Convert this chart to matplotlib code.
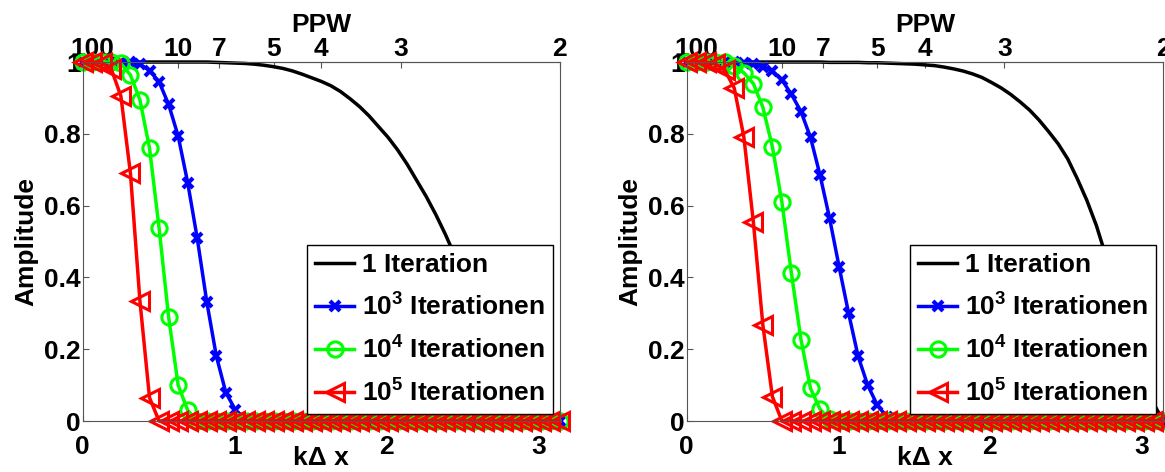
import numpy as np
import matplotlib
matplotlib.use('Agg')
import matplotlib.pyplot as plt

plt.rcParams['font.family'] = 'Liberation Sans'
plt.rcParams['font.weight'] = 'bold'
plt.rcParams['axes.labelweight'] = 'bold'
plt.rcParams['font.size'] = 19
plt.rcParams['mathtext.fontset'] = 'custom'
plt.rcParams['mathtext.rm'] = 'Liberation Sans:bold'
plt.rcParams['mathtext.it'] = 'Liberation Sans:bold'
plt.rcParams['mathtext.bf'] = 'Liberation Sans:bold'

# k*dx grid, 0..pi
kdx = np.linspace(0, np.pi, 51)

ppw = [100, 10, 7, 5, 4, 3, 2]
ppw_labels = ['100', '10', '7', '5', '4', '3', '2']

x_ticks = [0, 1, 2, 3]
x_labels = ['0', '1', '2', '3']
y_ticks = [0, 0.2, 0.4, 0.6, 0.8, 1.0]
y_labels = ['0', '0.2', '0.4', '0.6', '0.8', '1']

series_labels = ['1 Iteration', r'$10^3$ Iterationen', r'$10^4$ Iterationen', r'$10^5$ Iterationen']

# ---- linkes Bild ----
black_l = [1, 1, 1, 1, 1, 1, 1, 1, 1, 1,
           1, 1, 1, 1, 0.999, 0.998, 0.997, 0.996, 0.994, 0.991,
           0.987, 0.982, 0.975, 0.966, 0.956, 0.946, 0.934, 0.918, 0.898, 0.876,
           0.85, 0.82, 0.79, 0.755, 0.715, 0.67, 0.625, 0.575, 0.52, 0.46,
           0.40, 0.34, 0.28, 0.22, 0.17, 0.12, 0.08, 0.05, 0.03, 0.01,
           0.0]
blue_l = [1, 1, 1, 1, 1, 0.999, 0.994, 0.976, 0.945, 0.882,
          0.794, 0.664, 0.509, 0.332, 0.181, 0.079, 0.031, 0.006, 0, 0,
          0, 0, 0, 0, 0, 0, 0, 0, 0, 0,
          0, 0, 0, 0, 0, 0, 0, 0, 0, 0,
          0, 0, 0, 0, 0, 0, 0, 0, 0, 0,
          0]
green_l = [1, 1, 1, 1, 0.996, 0.964, 0.894, 0.76, 0.538, 0.29,
           0.10, 0.03, 0, 0, 0, 0, 0, 0, 0, 0,
           0, 0, 0, 0, 0, 0, 0, 0, 0, 0,
           0, 0, 0, 0, 0, 0, 0, 0, 0, 0,
           0, 0, 0, 0, 0, 0, 0, 0, 0, 0,
           0]
red_l = [1, 1, 0.998, 0.98, 0.905, 0.69, 0.333, 0.065, 0, 0,
         0, 0, 0, 0, 0, 0, 0, 0, 0, 0,
         0, 0, 0, 0, 0, 0, 0, 0, 0, 0,
         0, 0, 0, 0, 0, 0, 0, 0, 0, 0,
         0, 0, 0, 0, 0, 0, 0, 0, 0, 0,
         0]

# ---- rechtes Bild ----
black_r = [1, 1, 1, 1, 1, 1, 1, 1, 1, 1,
           1, 1, 1, 1, 1, 0.999, 0.999, 0.999, 0.999, 0.998,
           0.998, 0.997, 0.996, 0.995, 0.994, 0.992, 0.99, 0.986, 0.981, 0.975,
           0.967, 0.957, 0.943, 0.928, 0.91, 0.889, 0.866, 0.838, 0.806, 0.772,
           0.73, 0.675, 0.615, 0.545, 0.46, 0.37, 0.28, 0.19, 0.11, 0.05,
           0.0]
blue_r = [1, 1, 1, 1, 1, 1, 0.998, 0.994, 0.987, 0.975,
          0.95, 0.91, 0.862, 0.79, 0.685, 0.565, 0.43, 0.30, 0.18, 0.10,
          0.045, 0.012, 0, 0, 0, 0, 0, 0, 0, 0,
          0, 0, 0, 0, 0, 0, 0, 0, 0, 0,
          0, 0, 0, 0, 0, 0, 0, 0, 0, 0,
          0]
green_r = [1, 1, 1, 1, 0.999, 0.99, 0.97, 0.94, 0.874, 0.764,
           0.609, 0.411, 0.227, 0.091, 0.033, 0.005, 0, 0, 0, 0,
           0, 0, 0, 0, 0, 0, 0, 0, 0, 0,
           0, 0, 0, 0, 0, 0, 0, 0, 0, 0,
           0, 0, 0, 0, 0, 0, 0, 0, 0, 0,
           0]
red_r = [1, 1, 1, 0.995, 0.978, 0.927, 0.792, 0.555, 0.267, 0.068,
         0, 0, 0, 0, 0, 0, 0, 0, 0, 0,
         0, 0, 0, 0, 0, 0, 0, 0, 0, 0,
         0, 0, 0, 0, 0, 0, 0, 0, 0, 0,
         0, 0, 0, 0, 0, 0, 0, 0, 0, 0,
         0]

axis_col = '#555555'


def draw_panel(ax, black, blue, green, red):
    ax.plot(kdx, black, color='k', lw=2.5, label=series_labels[0], clip_on=False)
    ax.plot(kdx, blue, color='#0000ff', lw=2.5, marker='x', ms=7, mew=3,
            label=series_labels[1], clip_on=False)
    ax.plot(kdx, green, color='#00ff00', lw=2.5, marker='o', ms=11, mew=2.2,
            mfc='none', label=series_labels[2], clip_on=False)
    ax.plot(kdx, red, color='#ff0000', lw=2.5, marker='<', ms=13, mew=2.2,
            mfc='none', label=series_labels[3], clip_on=False)

    ax.set_xlim(0, np.pi)
    ax.set_ylim(0, 1)
    ax.set_xticks(x_ticks)
    ax.set_xticklabels(x_labels)
    ax.set_yticks(y_ticks)
    ax.set_yticklabels(y_labels)
    ax.tick_params(direction='in', length=4, width=0.8, color=axis_col, top=False, right=False)
    ax.tick_params(axis='x', pad=10)
    ax.tick_params(axis='y', pad=1.5)
    for s in ax.spines.values():
        s.set_color(axis_col)
    ax.set_xlabel('k\u0394 x', labelpad=-9)
    ax.set_ylabel('Amplitude', labelpad=4)

    # obere Achse: Punkte pro Wellenlaenge
    top = ax.secondary_xaxis('top')
    top.set_xticks([2 * np.pi / p for p in ppw], ppw_labels)
    top.tick_params(direction='in', length=4, width=0.8, color=axis_col, pad=1)
    top.spines['top'].set_color(axis_col)
    top.set_xlabel('PPW', labelpad=3)

    leg = ax.legend(loc='lower right', fontsize=19, frameon=True, fancybox=False,
                    framealpha=1, edgecolor='k', numpoints=1, handlelength=1.5,
                    handletextpad=0.3, labelspacing=0.6, borderaxespad=0.25,
                    borderpad=0.3)
    leg.get_frame().set_linewidth(1)


fig = plt.figure(figsize=(11.65, 4.72), dpi=100)
ax1 = fig.add_axes([0.071, 0.108, 0.4096, 0.7606])
ax2 = fig.add_axes([0.5894, 0.108, 0.4089, 0.7606])

draw_panel(ax1, black_l, blue_l, green_l, red_l)
draw_panel(ax2, black_r, blue_r, green_r, red_r)

fig.savefig('out.png', dpi=100)
